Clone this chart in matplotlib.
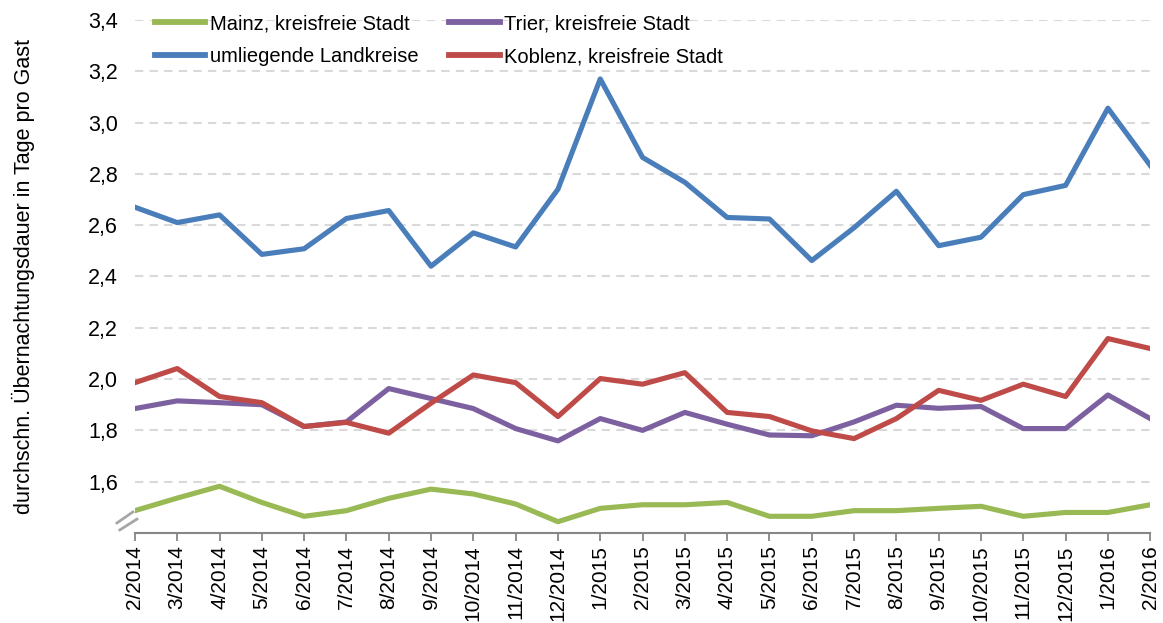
import matplotlib
matplotlib.use("Agg")
import matplotlib.pyplot as plt
from matplotlib.ticker import FuncFormatter, FixedLocator

months = ["2/2014", "3/2014", "4/2014", "5/2014", "6/2014", "7/2014", "8/2014",
          "9/2014", "10/2014", "11/2014", "12/2014", "1/2015", "2/2015", "3/2015",
          "4/2015", "5/2015", "6/2015", "7/2015", "8/2015", "9/2015", "10/2015",
          "11/2015", "12/2015", "1/2016", "2/2016"]

mainz = [1.487, 1.536, 1.582, 1.519, 1.465, 1.487, 1.535, 1.571, 1.552, 1.513,
         1.444, 1.496, 1.510, 1.510, 1.519, 1.465, 1.465, 1.487, 1.487, 1.496,
         1.504, 1.465, 1.480, 1.480, 1.510]
umliegende = [2.67, 2.61, 2.64, 2.486, 2.508, 2.626, 2.657, 2.44, 2.57, 2.515,
              2.74, 3.17, 2.864, 2.767, 2.63, 2.624, 2.462, 2.59, 2.732, 2.52,
              2.553, 2.719, 2.755, 3.056, 2.833]
trier = [1.885, 1.915, 1.908, 1.900, 1.815, 1.833, 1.963, 1.924, 1.885, 1.807,
         1.759, 1.846, 1.800, 1.870, 1.824, 1.782, 1.779, 1.833, 1.898, 1.886,
         1.893, 1.807, 1.807, 1.938, 1.846]
koblenz = [1.986, 2.041, 1.932, 1.908, 1.815, 1.831, 1.789, 1.906, 2.016, 1.986,
           1.854, 2.002, 1.980, 2.025, 1.870, 1.854, 1.798, 1.768, 1.846, 1.956,
           1.917, 1.980, 1.932, 2.158, 2.119]

y_ticks = [1.6, 1.8, 2.0, 2.2, 2.4, 2.6, 2.8, 3.0, 3.2, 3.4]

plt.rcParams['font.family'] = ['Liberation Sans', 'DejaVu Sans']

fig = plt.figure(figsize=(11.63, 6.23), dpi=100)
ax = fig.add_axes([0.116, 0.1445, 0.873, 0.8235])

x = list(range(len(months)))
lw = 3.7
ax.plot(x, mainz, color="#98B954", lw=lw, label="Mainz, kreisfreie Stadt", zorder=3)
ax.plot(x, umliegende, color="#4A7EBB", lw=lw, label="umliegende Landkreise", zorder=3)
ax.plot(x, trier, color="#7D60A0", lw=lw, label="Trier, kreisfreie Stadt", zorder=3)
ax.plot(x, koblenz, color="#BE4B48", lw=lw, label="Koblenz, kreisfreie Stadt", zorder=3)

ax.set_xlim(0, len(months) - 1)
ax.set_ylim(1.4, 3.4)
ax.yaxis.set_major_locator(FixedLocator(y_ticks))
ax.yaxis.set_major_formatter(FuncFormatter(lambda v, p: f"{v:.1f}".replace(".", ",")))
ax.set_xticks(x)
ax.set_xticklabels(months, rotation=90, fontsize=15)
ax.tick_params(axis="y", length=0, pad=12, labelsize=15.5)
ax.tick_params(axis="x", length=6, width=1.3, color="#868686", pad=3)

ax.grid(axis="y", color="#D9D9D9", linestyle=(0, (4, 3)), lw=1.5, zorder=0)
for s in ["top", "right", "left"]:
    ax.spines[s].set_visible(False)
ax.spines["bottom"].set_color("#868686")
ax.spines["bottom"].set_linewidth(1.5)

ax.set_ylabel("durchschn. Übernachtungsdauer in Tage pro Gast", fontsize=15.5)
ax.yaxis.set_label_coords(-0.098, 0.5)

# axis break marks
for x0, x1, y0, y1 in ((-0.0177, -0.002, 0.0195, 0.041),
                       (-0.0148, 0.002, 0.006, 0.027)):
    ax.plot([x0, x1], [y0, y1], transform=ax.transAxes,
            color="#A6A6A6", lw=2, clip_on=False, zorder=4)

leg = ax.legend(loc="upper left", bbox_to_anchor=(0.012, 1.027), ncol=2, frameon=False,
                fontsize=14.5, handlelength=2.5, handletextpad=0.2,
                columnspacing=1.55, labelspacing=0.7, borderaxespad=0)
for h in leg.get_lines():
    h.set_linewidth(4.2)

fig.savefig("out.png", dpi=100)
